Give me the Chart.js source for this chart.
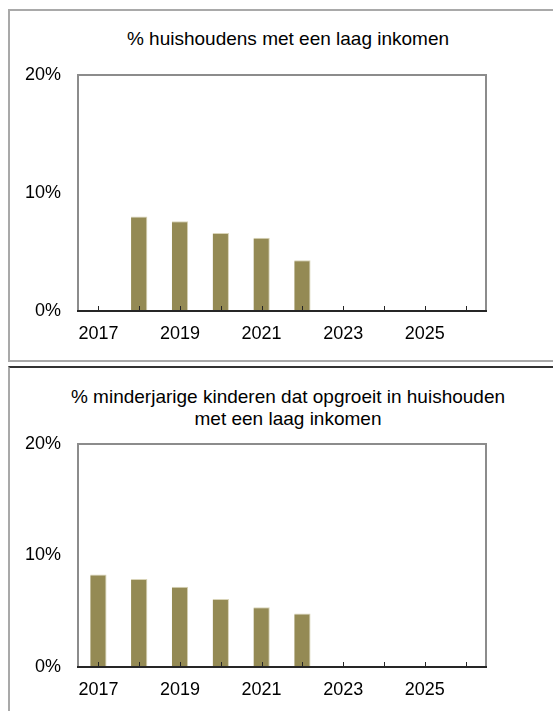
<!DOCTYPE html>
<html>
<head>
<meta charset="utf-8">
<script src="https://cdn.jsdelivr.net/npm/chart.js@4"></script>
<style>
  html, body { margin: 0; padding: 0; background: #fff; overflow: hidden; }
  body { width: 553px; height: 711px; position: relative; font-family: "Liberation Sans", Arial, sans-serif; }
  .panel { position: absolute; left: 8px; width: 700px; box-sizing: content-box; }
  #panel1 { top: 9px; height: 349px; border-top: 2px solid #a9a9a9; border-left: 2px solid #a9a9a9; border-bottom: 2px solid #a9a9a9; }
  #panel2 { top: 366px; height: 400px; border-top: 2px solid #333; border-left: 2px solid #a9a9a9; }
  .titel { position: absolute; left: 0; width: 576px; text-align: center; font-size: 19px; line-height: 21.7px; color: #000; }
  canvas { position: absolute; left: 0; }
  #chart1 { top: 0; }
  #chart2 { top: 361px; }
</style>
</head>
<body>
<div class="panel" id="panel1"></div>
<div class="panel" id="panel2"></div>
<div class="titel" style="top: 27.5px;">% huishoudens met een laag inkomen</div>
<div class="titel" style="top: 386px;">% minderjarige kinderen dat opgroeit in huishouden<br>met een laag inkomen</div>
<canvas id="chart1" width="553" height="360"></canvas>
<canvas id="chart2" width="553" height="350"></canvas>
<script>
const jaren = ["2017", "2018", "2019", "2020", "2021", "2022", "2023", "2024", "2025", "2026"];
const huishoudens = [null, 8.0, 7.6, 6.6, 6.2, 4.3, null, null, null, null];
const kinderen = [8.3, 7.9, 7.2, 6.1, 5.35, 4.8, null, null, null, null];
const yMax = 20;
const yStap = 10;

const BAR_COLOR = "#948A54";
const FONT = { family: "'Liberation Sans', Arial, sans-serif", size: 18 };

// frame around the plot + small inward ticks on the x axis
const framePlugin = {
  id: "frame",
  afterDatasetsDraw(chart) {
    const { ctx, chartArea: { left, right, top, bottom }, scales: { x } } = chart;
    ctx.save();
    ctx.lineWidth = 2;
    ctx.strokeStyle = "#8c8c8c";
    ctx.beginPath();
    ctx.moveTo(left, bottom);
    ctx.lineTo(left, top);
    ctx.lineTo(right, top);
    ctx.lineTo(right, bottom);
    ctx.stroke();

    ctx.strokeStyle = "#262626";
    ctx.beginPath();
    ctx.moveTo(left - 1, bottom);
    ctx.lineTo(right + 1, bottom);
    ctx.stroke();

    ctx.lineWidth = 1;
    ctx.beginPath();
    x.ticks.forEach((t, i) => {
      const px = Math.round(x.getPixelForTick(i)) + 0.5;
      ctx.moveTo(px, bottom);
      ctx.lineTo(px, bottom - 5);
    });
    ctx.stroke();
    ctx.restore();
  }
};

function maakGrafiek(canvasId, waarden, padTop, asHoogte) {
  const ctx = document.getElementById(canvasId).getContext("2d");
  return new Chart(ctx, {
    type: "bar",
    data: {
      labels: jaren,
      datasets: [{
        data: waarden,
        backgroundColor: BAR_COLOR,
        borderColor: "#d9d4b8",
        borderWidth: { top: 1, right: 1, left: 0, bottom: 0 },
        borderSkipped: false,
        barPercentage: 0.4,
        categoryPercentage: 1
      }]
    },
    options: {
      responsive: false,
      animation: false,
      devicePixelRatio: 1,
      layout: { padding: { top: padTop, right: 67, left: 0, bottom: 0 } },
      scales: {
        x: {
          offset: true,
          grid: { display: false, drawTicks: false },
          border: { display: false },
          ticks: {
            autoSkip: false,
            maxRotation: 0,
            padding: 12,
            color: "#000",
            font: FONT,
            callback: (v, i) => i % 2 === 0 ? jaren[i] : ""
          },
          afterFit: s => { s.height = asHoogte; }
        },
        y: {
          min: 0,
          max: yMax,
          grid: { display: false, drawTicks: false },
          border: { display: false },
          ticks: {
            stepSize: yStap,
            padding: 17,
            color: "#000",
            font: FONT,
            callback: v => v + "%"
          },
          afterFit: s => { s.width = 78; }
        }
      },
      plugins: {
        legend: { display: false },
        tooltip: { enabled: false }
      }
    },
    plugins: [framePlugin]
  });
}

maakGrafiek("chart1", huishoudens, 75, 49);
maakGrafiek("chart2", kinderen, 83, 44);
</script>
</body>
</html>
